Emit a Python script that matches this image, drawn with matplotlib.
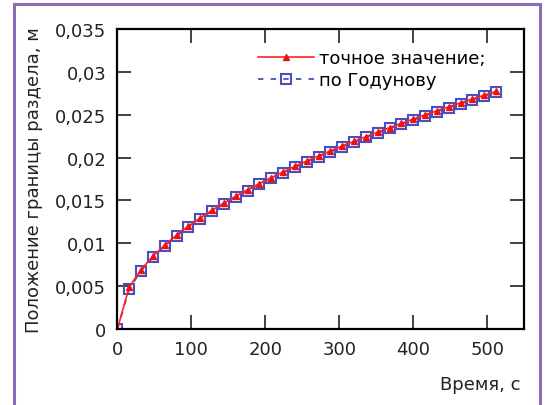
import matplotlib
matplotlib.use("Agg")
import matplotlib.pyplot as plt
from matplotlib.patches import Rectangle
from matplotlib.ticker import FuncFormatter

plt.rcParams['font.family'] = ['DejaVu Sans']

# time, s
t = [0, 16, 32, 48, 64, 80, 96, 112, 128, 144, 160, 176, 192, 208, 224, 240,
     256, 272, 288, 304, 320, 336, 352, 368, 384, 400, 416, 432, 448, 464,
     480, 496, 512]
# exact interface position, m
exact = [0.0, 0.0049, 0.00693, 0.00849, 0.0098, 0.01096, 0.0120, 0.01296,
         0.01386, 0.0147, 0.0155, 0.01625, 0.01697, 0.01767, 0.01833, 0.01898,
         0.0196, 0.0202, 0.02079, 0.02136, 0.02191, 0.02245, 0.02298, 0.0235,
         0.0240, 0.0245, 0.02499, 0.02546, 0.02593, 0.02639, 0.02684, 0.02728,
         0.02772]
# Godunov scheme
godunov = [0.0, 0.0047, 0.00680, 0.00838, 0.0097, 0.01086, 0.0119, 0.01287,
           0.01377, 0.0146, 0.0154, 0.01616, 0.01688, 0.01758, 0.01824, 0.01889,
           0.0195, 0.0201, 0.02070, 0.02127, 0.02182, 0.02236, 0.02289, 0.0234,
           0.0239, 0.0244, 0.02490, 0.02537, 0.02584, 0.02630, 0.02675, 0.02719,
           0.02763]

xticks = [0, 100, 200, 300, 400, 500]
yticks = [0, 0.005, 0.01, 0.015, 0.02, 0.025, 0.03, 0.035]

fig = plt.figure(figsize=(5.46, 4.06), dpi=100)
ax = fig.add_axes([0.215, 0.187, 0.745, 0.739])

ax.plot(t, godunov, color='#4a4fc0', ls=(0, (3, 4)), lw=1.3, marker='s',
        ms=6.5, mfc='none', mec='#4a4fc0', mew=1.5, label='по Годунову')
ax.plot(t, exact, color='#ff2020', lw=1.2, marker='^', ms=4.5,
        mfc='#ee1111', mec='#ee1111', label='точное значение;')

ax.set_xlim(0, 550)
ax.set_ylim(0, 0.035)
ax.set_xticks(xticks)
ax.set_yticks(yticks)
ax.yaxis.set_major_formatter(FuncFormatter(lambda v, p: ('%g' % round(v, 3)).replace('.', ',')))
ax.tick_params(direction='in', length=10, width=1.2, top=True, right=True,
               labelsize=13, colors='#222222', pad=8)
for s in ax.spines.values():
    s.set_linewidth(1.6)

ax.set_ylabel('Положение границы раздела, м', fontsize=13, color='#222222')
ax.yaxis.set_label_coords(-0.183, 0.5)
ax.set_xlabel('Время, с', fontsize=13, color='#222222')
ax.xaxis.set_label_coords(0.99, -0.183)
ax.xaxis.label.set_ha('right')
ax.xaxis.label.set_va('center')

h, l = ax.get_legend_handles_labels()
ax.legend(h[::-1], l[::-1], loc='upper left', bbox_to_anchor=(0.3456, 0.932),
          frameon=False, fontsize=13, handlelength=3.1, handletextpad=0.28,
          labelspacing=0.2, borderpad=0, borderaxespad=0)

fig.patches.append(Rectangle((14 / 546, -0.1), 526 / 546, 1.1 - 5 / 406,
                             transform=fig.transFigure, fill=False,
                             edgecolor='#8a6bb5', lw=2.2, clip_on=False))

fig.savefig('out.png', dpi=100)
